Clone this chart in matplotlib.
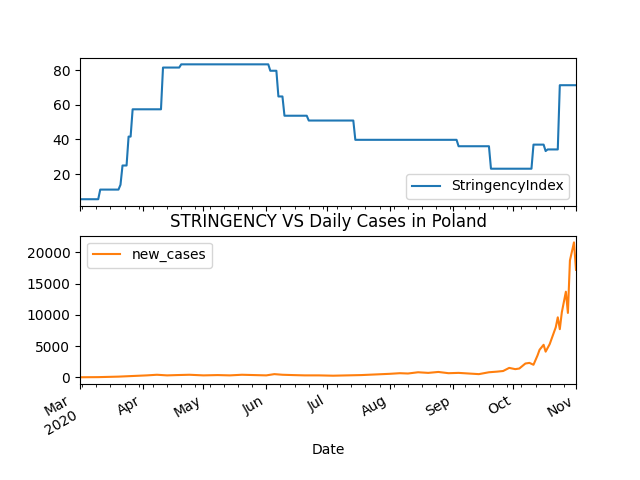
import matplotlib
matplotlib.use('Agg')
import matplotlib.pyplot as plt
import matplotlib.dates as mdates
import pandas as pd

# stringency index: change dates and new level (step function)
stringency_dates = ['2020-03-01', '2020-03-11', '2020-03-21', '2020-03-22', '2020-03-24',
                    '2020-03-25', '2020-03-27', '2020-04-11', '2020-04-20', '2020-06-03',
                    '2020-06-07', '2020-06-10', '2020-06-22', '2020-07-15', '2020-09-04',
                    '2020-09-20', '2020-10-11', '2020-10-17', '2020-10-18', '2020-10-24',
                    '2020-11-01']
stringency_values = [5.56, 11.11, 13.89, 25.0, 25.0, 41.67, 57.41, 81.48, 83.33, 79.63,
                     64.81, 53.7, 50.93, 39.81, 36.11, 23.15, 37.04, 33.33, 34.26, 71.3,
                     71.3]

case_dates = ['2020-03-01', '2020-03-10', '2020-03-20', '2020-03-27', '2020-04-03',
              '2020-04-08', '2020-04-13', '2020-04-18', '2020-04-24', '2020-05-01',
              '2020-05-08', '2020-05-14', '2020-05-20', '2020-05-26', '2020-06-01',
              '2020-06-05', '2020-06-09', '2020-06-14', '2020-06-20', '2020-06-27',
              '2020-07-04', '2020-07-11', '2020-07-18', '2020-07-25', '2020-08-01',
              '2020-08-06', '2020-08-10', '2020-08-15', '2020-08-20', '2020-08-25',
              '2020-08-30', '2020-09-04', '2020-09-09', '2020-09-14', '2020-09-19',
              '2020-09-23', '2020-09-26', '2020-09-29', '2020-10-02', '2020-10-04',
              '2020-10-07', '2020-10-09', '2020-10-11', '2020-10-13', '2020-10-14',
              '2020-10-16', '2020-10-17', '2020-10-19', '2020-10-22', '2020-10-23',
              '2020-10-24', '2020-10-25', '2020-10-27', '2020-10-28', '2020-10-29',
              '2020-10-31', '2020-11-01']
case_values = [0, 20, 100, 200, 300, 400, 300, 350, 400, 300,
               350, 300, 400, 350, 300, 500, 400, 350, 300, 300,
               250, 300, 350, 450, 550, 650, 600, 800, 700, 850,
               650, 700, 600, 500, 800, 900, 1000, 1500, 1300, 1400,
               2200, 2300, 2000, 3500, 4400, 5200, 4100, 5300, 8000, 9600,
               7700, 10400, 13700, 10300, 18700, 21600, 17200]

# daily stringency (hold each level until the next change)
stringency = pd.Series(stringency_values, index=pd.to_datetime(stringency_dates))
stringency = stringency[~stringency.index.duplicated()]
stringency = stringency.reindex(pd.date_range('2020-03-01', '2020-11-01', freq='D')).ffill()
c_idx = pd.to_datetime(case_dates)

fig, (ax1, ax2) = plt.subplots(2, 1, sharex=True)
ax1.plot(stringency.index, stringency.values, color='C0', label='StringencyIndex')
ax1.legend(loc='lower right')
ax2.plot(c_idx, case_values, color='C1', label='new_cases')
ax2.legend(loc='upper left')
ax2.set_title('STRINGENCY VS Daily Cases in Poland')
ax2.set_xlabel('Date')
ax2.set_xlim(pd.Timestamp('2020-03-01'), pd.Timestamp('2020-11-01'))

ax2.xaxis.set_minor_locator(mdates.WeekdayLocator(byweekday=mdates.MO))
ticks = pd.date_range('2020-03-01', '2020-11-01', freq='MS')
ax2.set_xticks(ticks)
ax2.set_xticklabels(['Mar\n2020'] + [t.strftime('%b') for t in ticks[1:]])
fig.autofmt_xdate()

plt.savefig('out.png', dpi=100)
